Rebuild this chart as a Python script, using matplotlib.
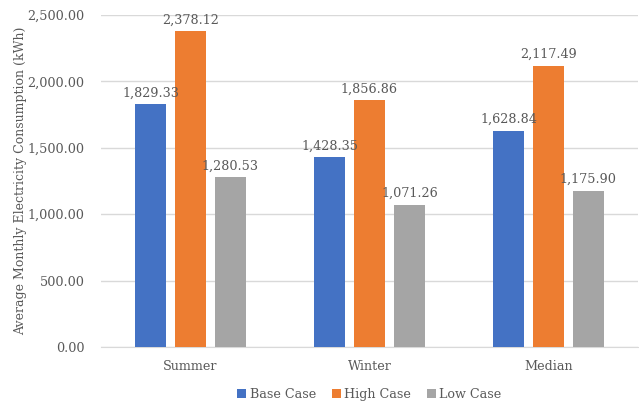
import matplotlib

matplotlib.use("Agg")
import matplotlib.pyplot as plt  # noqa: E402
import numpy as np  # noqa: E402

seasons = ["Summer", "Winter", "Median"]
series_names = ["Base Case", "High Case", "Low Case"]
base_case = [1829.33, 1428.35, 1628.84]
high_case = [2378.12, 1856.86, 2117.49]
low_case = [1280.53, 1071.26, 1175.90]
y_ticks = [0, 500, 1000, 1500, 2000, 2500]

colors = ["#4472C4", "#ED7D31", "#A5A5A5"]
text_color = "#595959"

plt.rcParams["font.family"] = ["DejaVu Serif"]

fig = plt.figure(figsize=(6.39, 4.03), dpi=100)
ax = fig.add_axes([101 / 639, 1 - 347 / 403, 537 / 639, 332 / 403])

x = np.arange(len(seasons))
width = 0.173
step = 0.223
for i, (vals, name) in enumerate(zip([base_case, high_case, low_case], series_names)):
    pos = x + (i - 1) * step
    ax.bar(pos, vals, width, color=colors[i], label=name, zorder=3)
    for px, v in zip(pos, vals):
        ax.text(px, v + 35, f"{v:,.2f}", ha="center", va="bottom",
                fontsize=9.2, color=text_color, zorder=4)

ax.set_xlim(-0.5, len(seasons) - 0.5)
ax.set_ylim(0, 2500)
ax.set_yticks(y_ticks, [f"{t:,.2f}" for t in y_ticks])
ax.set_xticks(x, seasons)
ax.tick_params(length=0, labelsize=9.2, colors=text_color)
ax.tick_params(axis="y", pad=12)
ax.tick_params(axis="x", pad=9)
ax.grid(axis="y", color="#D9D9D9", linewidth=1, zorder=0)
for side in ["top", "right", "left"]:
    ax.spines[side].set_visible(False)
ax.spines["bottom"].set_color("#D9D9D9")
ax.set_ylabel("Average Monthly Electricity Consumption (kWh)", fontsize=9,
              color=text_color)
ax.yaxis.set_label_coords(-0.138, 0.5)

ax.legend(loc="upper center", bbox_to_anchor=(0.5, -0.09), ncol=3, frameon=False,
          fontsize=9.2, handlelength=0.7, handleheight=0.7, handletextpad=0.3,
          columnspacing=1.2, labelcolor=text_color)

fig.savefig("out.png", dpi=100)
